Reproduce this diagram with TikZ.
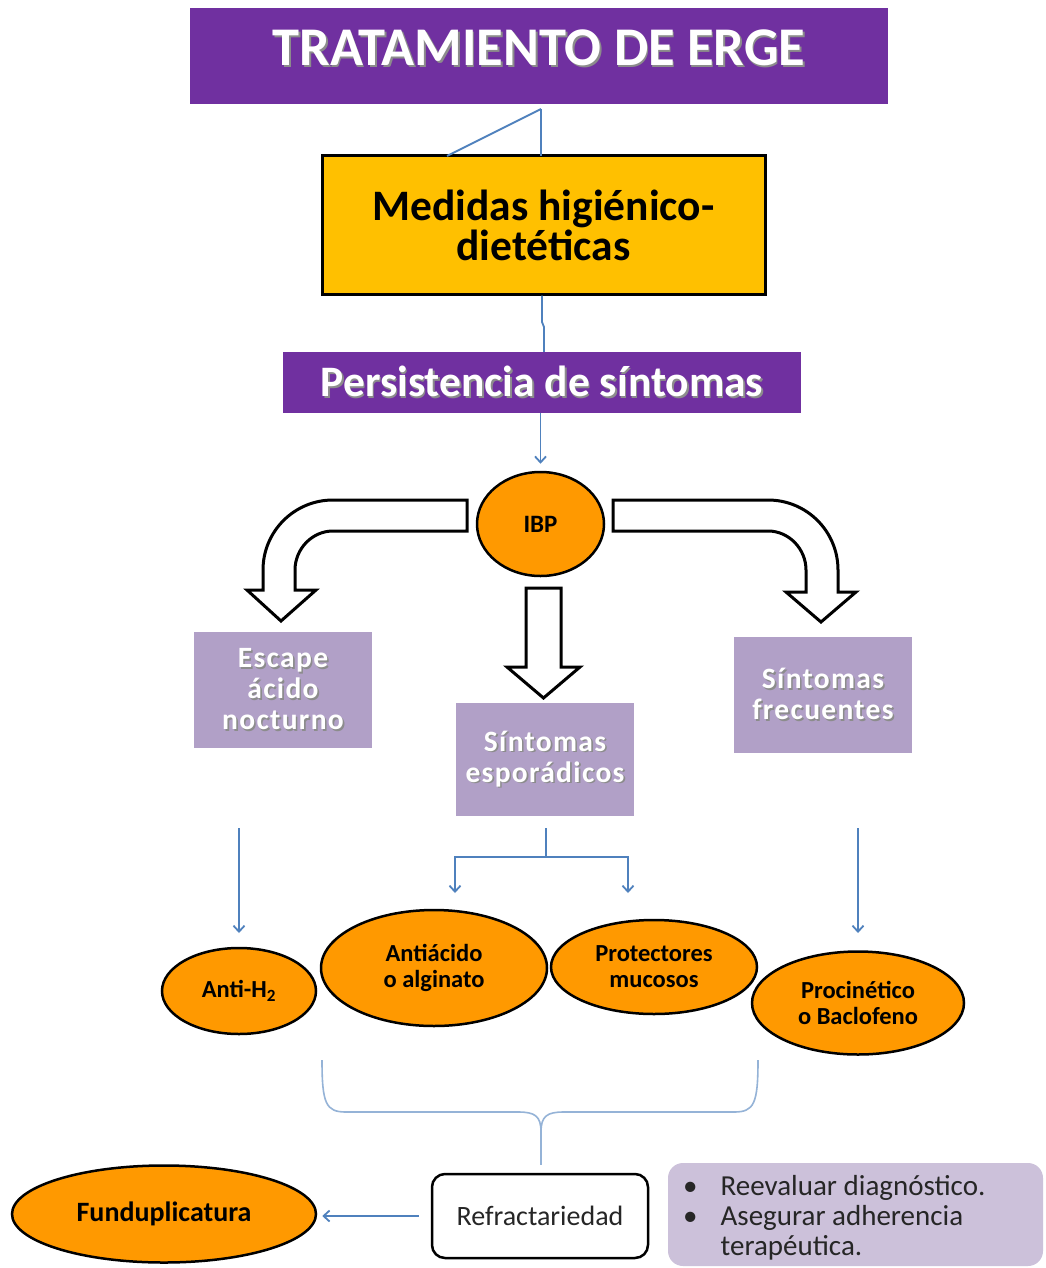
\documentclass[tikz,border=0pt]{standalone}
\usepackage{fontspec}
\setmainfont{Carlito}
\newfontfamily\spacedbold{Carlito}[LetterSpace=4.5]
\usetikzlibrary{arrows.meta,shapes.geometric,calc}

\definecolor{ergpurple}{HTML}{7030A0}
\definecolor{ergyellow}{HTML}{FFC000}
\definecolor{erglilac}{HTML}{B1A0C7}
\definecolor{ergnote}{HTML}{CCC1DA}
\definecolor{ergorange}{HTML}{FF9900}
\definecolor{ergblue}{HTML}{4F81BD}
\definecolor{ergbrace}{HTML}{95B3D7}
\definecolor{ergtext}{HTML}{262626}

% white lettering with a soft drop shadow
\newcommand{\shd}[1]{\rlap{\kern1.6pt\raisebox{-1.6pt}{\textcolor{black!45}{#1}}}#1}

\tikzset{
  headbox/.style={fill=ergpurple, text=white, inner sep=0pt, font=\bfseries},
  lilacbox/.style={fill=erglilac, text=white, inner sep=0pt, align=center,
    minimum width=178pt, minimum height=116pt,
    font=\spacedbold\fontsize{29.5}{31}\selectfont\bfseries},
  pill/.style={ellipse, fill=ergorange, draw=black, line width=2.5pt, inner sep=0pt,
    align=center, text=black, font=\fontsize{24.5}{26}\selectfont\bfseries},
  conn/.style={draw=ergblue, line width=1.8pt},
  conna/.style={conn, -{Straight Barb[length=6pt,width=11pt,line width=1.8pt]}},
  blockarrow/.style={fill=white, draw=black, line width=3pt, line join=miter},
}

\begin{document}
\begin{tikzpicture}[x=1pt,y=-1pt]
\clip (0,0) rectangle (1045,1268);
\fill[white] (0,0) rectangle (1045,1268);

% ---- header and first steps
\node[headbox, minimum width=698pt, minimum height=96pt] (title) at (539,56)
  {\raisebox{16pt}{\fontsize{54.5}{58}\selectfont\shd{TRATAMIENTO DE ERGE}}};

\node[fill=ergyellow, draw=black, line width=3pt, inner sep=0pt,
  minimum width=443pt, minimum height=138pt, align=center,
  font=\fontsize{43.5}{40}\selectfont\bfseries] (hyg) at (543.5,225)
  {Medidas higiénico-\\dietéticas};

\node[headbox, minimum width=518pt, minimum height=61pt,
  font=\fontsize{43.5}{44}\selectfont\bfseries] (pers) at (542,382.5)
  {\shd{Persistencia de síntomas}};

\coordinate (tj) at (541,109);
\draw[conn] (tj) -- (541,156);
\draw[conn] (tj) -- (447,156);
\coordinate (hk1) at (542,322);
\coordinate (hk2) at (544,327);
\draw[conn] (hyg.south -| hk1) -- (hk1) -- (hk2) -- (pers.north -| hk2);

% ---- IBP
\node[ellipse, fill=ergorange, draw=black, line width=2.5pt, minimum width=127pt,
  minimum height=104pt, inner sep=0pt, font=\fontsize{25}{26}\selectfont\bfseries]
  (ibp) at (540.5,524) {IBP};
\draw[conna, shorten >=7pt] (pers.south -| ibp) -- (ibp.north);

% ---- hollow block arrows out of IBP
\draw[blockarrow] (467,500) -- (333,500)
  .. controls (294.3,500) and (263,531.3) .. (263,570)
  -- (263,590) -- (247,590) -- (281,621) -- (316,590) -- (295,590) -- (295,570)
  .. controls (295,549) and (312,531) .. (333,531) -- (467,531) -- cycle;
\draw[blockarrow] (613,500) -- (768,500)
  .. controls (806.7,500) and (838,531.3) .. (838,570)
  -- (838,592) -- (856,592) -- (821,622) -- (786,592) -- (806,592) -- (806,570)
  .. controls (806,549) and (789,531) .. (768,531) -- (613,531) -- cycle;
\draw[blockarrow] (526,588) -- (561,588) -- (561,667) -- (580,667) -- (543.5,698)
  -- (507,667) -- (526,667) -- cycle;

% ---- symptom groups
\node[lilacbox] (noct) at (283,690) {\shd{Escape}\\\shd{ácido}\\\shd{nocturno}};
\node[lilacbox, minimum height=113pt] (spor) at (545,759.5) {\shd{Síntomas}\\\shd{esporádicos}};
\node[lilacbox] (freq) at (823,695) {\shd{Síntomas}\\\shd{frecuentes}};

% ---- treatments
\node[pill, minimum width=154pt, minimum height=86pt] (h2) at (239,991) {Anti-H\textsubscript{2}};
\node[pill, minimum width=226pt, minimum height=116pt] (antac) at (434,968) {Antiácido\\o alginato};
\node[pill, minimum width=206pt, minimum height=94pt] (prot) at (654,967) {Protectores\\mucosos};
\node[pill, minimum width=212pt, minimum height=103pt] (prok) at (858,1003) {Procinético\\o Baclofeno};

\coordinate (n1) at (239,828);
\coordinate (n2) at (239,933);
\draw[conna] (n1) -- (n2);
\coordinate (f1) at (858,828);
\coordinate (f2) at (858,933);
\draw[conna] (f1) -- (f2);
\coordinate (s1) at (546,828);
\coordinate (s2) at (546,857);
\coordinate (sa) at (455,893);
\coordinate (sp) at (628,893);
\draw[conn] (s1) -- (s2);
\draw[conna] (s2) -| (sa);
\draw[conna] (s2) -| (sp);

% ---- brace gathering the treatments
\coordinate (bl) at (322,1060);
\coordinate (br) at (758,1060);
\coordinate (bt) at (541,1165);
\draw[draw=ergbrace, line width=1.6pt, line join=round]
  (bl) .. controls (322,1104) and (326,1112) .. (346,1112) -- (518,1112)
  .. controls (535,1112) and (541,1116) .. (541,1132)
  .. controls (541,1116) and (547,1112) .. (564,1112) -- (734,1112)
  .. controls (754,1112) and (758,1104) .. (br);
\draw[draw=ergbrace, line width=1.6pt] (541,1132) -- (bt);

% ---- refractory cases
\node[draw=black, fill=white, line width=2.5pt, rounded corners=13pt,
  minimum width=216pt, minimum height=84pt, text=ergtext,
  font=\fontsize{28}{30}\selectfont] (refr) at (540,1216) {Refractariedad};
\node[pill, minimum width=304pt, minimum height=97pt,
  font=\fontsize{28}{30}\selectfont\bfseries] (fund) at (164,1214) {Funduplicatura};
\draw[conna, shorten <=12pt, shorten >=5pt] (refr.west) -- (refr.west -| fund.east);

\fill[ergnote, rounded corners=15pt] (668,1163) rectangle (1043,1266);
\node[anchor=west, inner sep=0pt, text=ergtext, align=left,
  font=\fontsize{29}{30}\selectfont] (note) at (683,1219)
  {\begin{tabular}{@{}l@{\hspace{23pt}}l@{}}
     \textbullet & Reevaluar diagnóstico.\\
     \textbullet & Asegurar adherencia\\
                 & terapéutica.
   \end{tabular}};
\end{tikzpicture}
\end{document}
